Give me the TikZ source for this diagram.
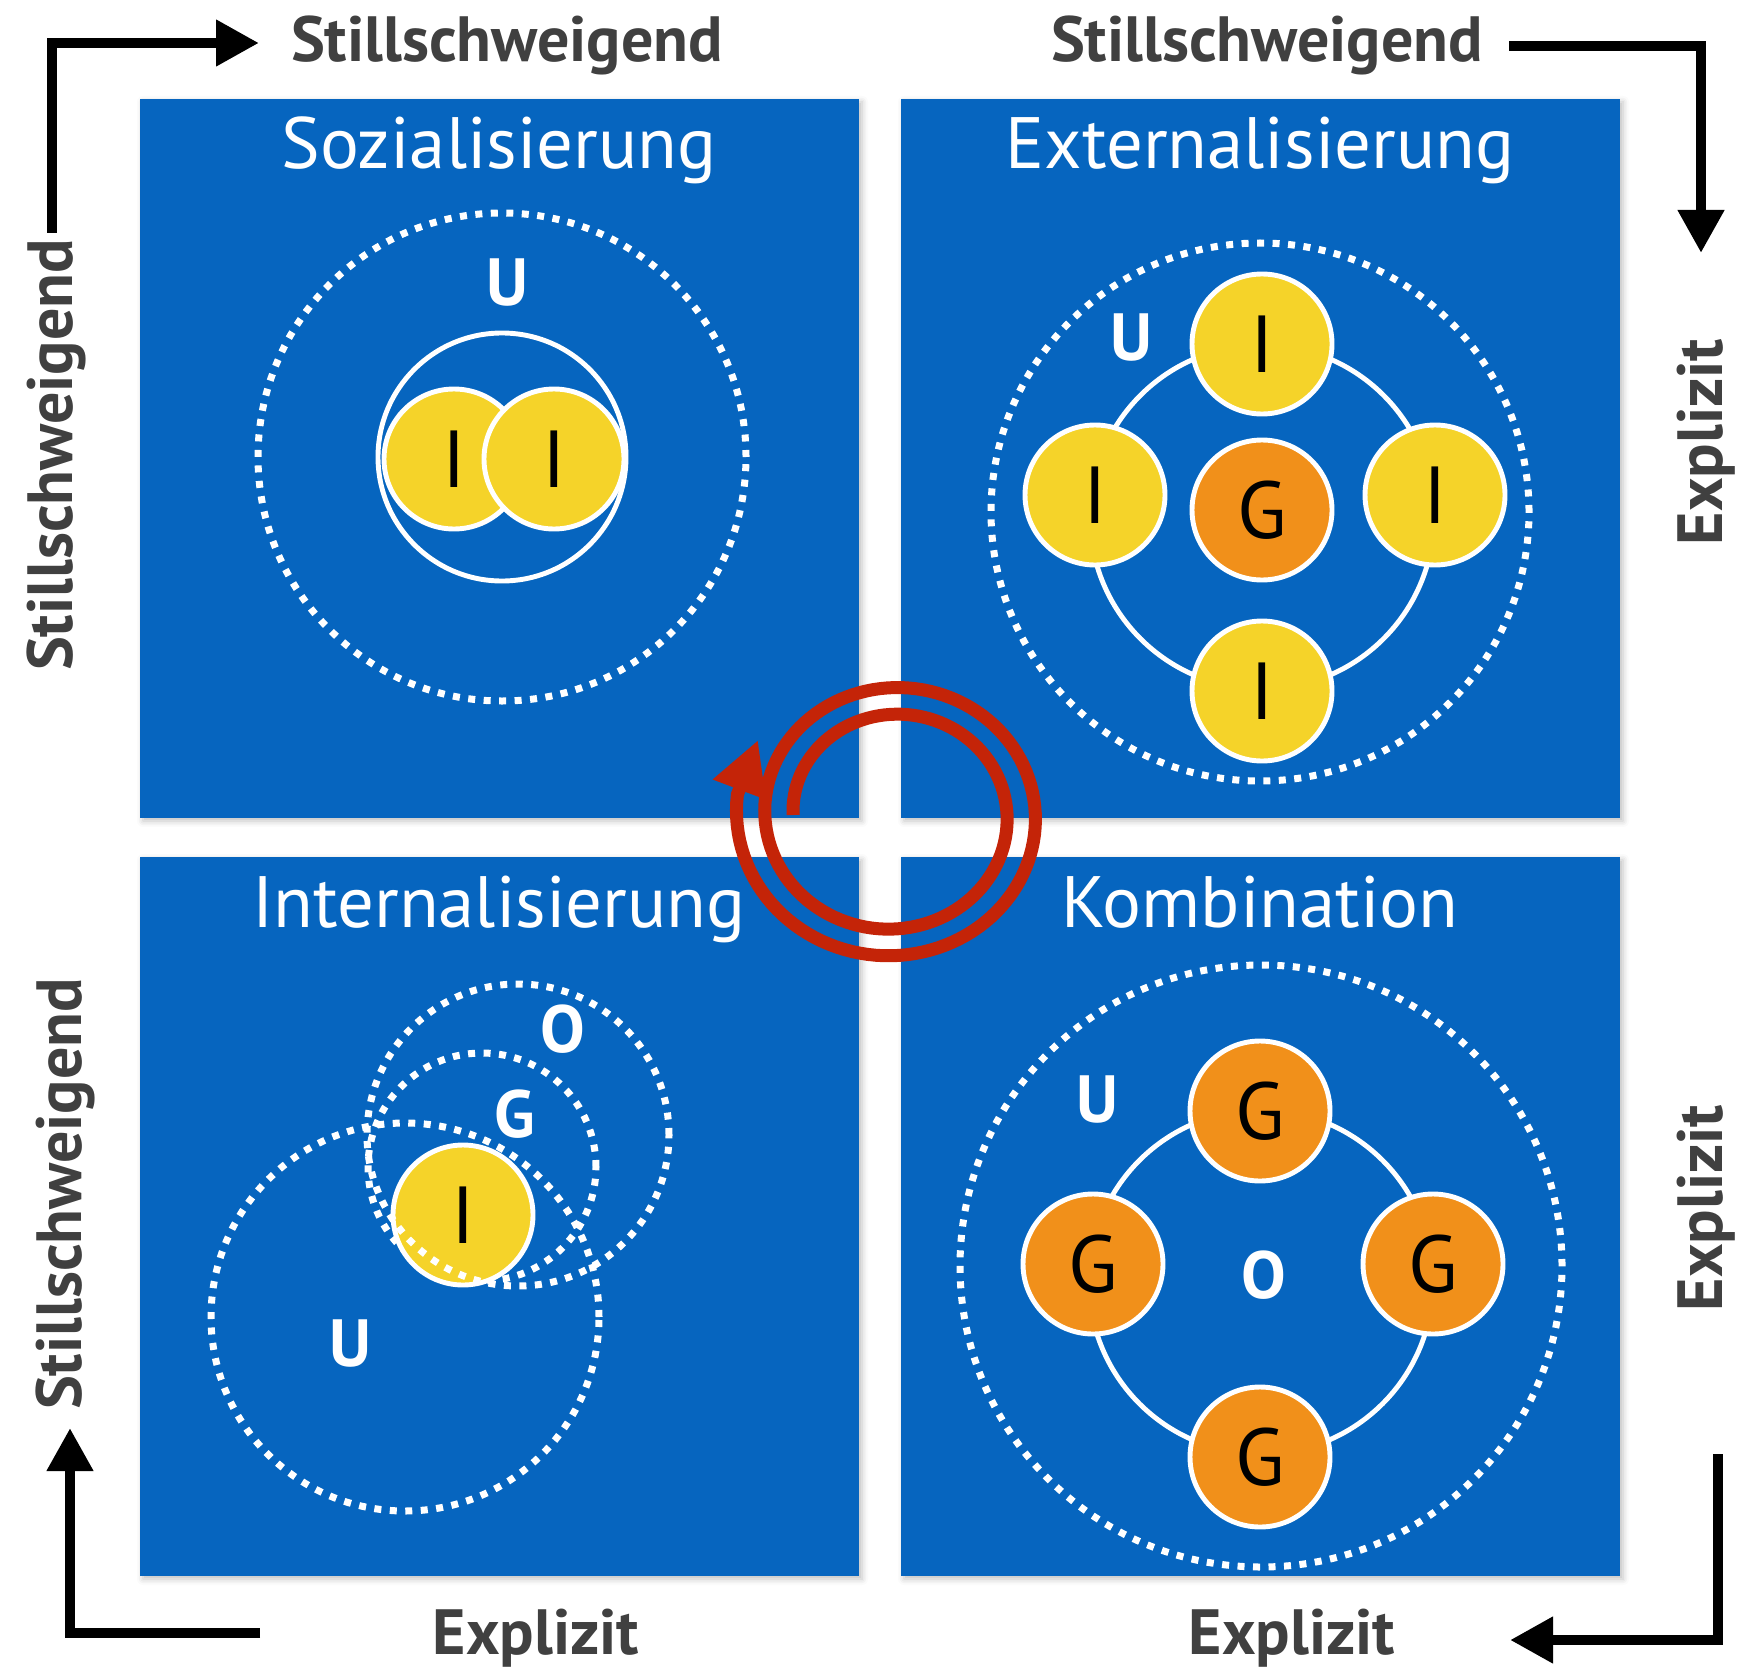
\documentclass[tikz,border=0pt]{standalone}
\usepackage{fontspec}
\setmainfont{PT Sans}
\usetikzlibrary{arrows.meta,shadows.blur}

\definecolor{panelblue}{RGB}{6,101,191}
\definecolor{ichyellow}{RGB}{245,211,41}
\definecolor{grporange}{RGB}{241,144,26}
\definecolor{spiralred}{RGB}{196,36,8}
\definecolor{axisgray}{RGB}{64,64,64}

\begin{document}
\begin{tikzpicture}[
    panel/.style={rectangle, fill=panelblue, minimum width=7.19cm, minimum height=7.19cm, inner sep=0pt,
        blur shadow={shadow xshift=0.03cm, shadow yshift=-0.03cm, shadow blur radius=0.06cm, shadow opacity=25}},
    title/.style={text=white, font=\fontsize{20.7}{25}\selectfont, anchor=base},
    person/.style={circle, draw=white, line width=1.4pt, fill=ichyellow, minimum size=1.40cm, inner sep=0pt,
        font=\fontsize{23}{27}\selectfont},
    group/.style={person, fill=grporange},
    tag/.style={text=white, font=\fontsize{19}{23}\selectfont\bfseries},
    ring/.style={draw=white, line width=1.4pt},
    dotring/.style={draw=white, line width=0.07cm, dash pattern=on 0.07cm off 0.085cm},
    axis/.style={line width=0.105cm, -{Triangle[length=0.43cm, width=0.44cm]}},
    axislabel/.style={text=axisgray, font=\fontsize{18.2}{22}\selectfont\bfseries, anchor=base},
    spiral/.style={draw=spiralred, line width=0.13cm, -{Triangle[length=0.53cm, width=0.53cm]}}
]
\useasboundingbox (0,0) rectangle (17.38,16.67);

% Panels
\node[panel] (soz) at (4.995,12.085) {};
\node[panel] (ext) at (12.605,12.085) {};
\node[panel] (int) at (4.995,4.505) {};
\node[panel] (kom) at (12.605,4.505) {};

% Titles
\node[title] (sozt) at (4.99,14.98) {Sozialisierung};
\node[title] (extt) at (12.60,14.98) {Externalisierung};
\node[title] (intt) at (4.99,7.40) {Internalisierung};
\node[title] (komt) at (12.60,7.40) {Kombination};

% Sozialisierung
\draw[dotring] (5.02,12.10) circle (2.44);
\node[tag] (sozu) at (5.07,13.84) {U};
\draw[ring] (5.02,12.10) circle (1.24);
\node[person] (soz1) at (4.54,12.08) {I};
\node[person] (soz2) at (5.54,12.08) {I};

% Externalisierung
\draw[dotring] (12.60,11.55) circle (2.69);
\node[tag] (extu) at (11.31,13.29) {U};
\draw[ring] (12.62,11.50) circle (1.72);
\node[group] (extg) at (12.62,11.57) {G};
\node[person] (ext1) at (12.62,13.23) {I};
\node[person] (ext2) at (10.95,11.72) {I};
\node[person] (ext3) at (14.35,11.72) {I};
\node[person] (ext4) at (12.62,9.76) {I};

% Internalisierung
\draw[dotring] (4.05,3.50) circle (1.94);
\draw[dotring] (4.82,5.00) circle (1.14);
\node[person] (int1) at (4.63,4.52) {I};
\draw[dotring] (5.18,5.32) circle (1.51);
\node[tag] (into) at (5.63,6.38) {O};
\node[tag] (intg) at (5.15,5.53) {G};
\node[tag] (intu) at (3.50,3.23) {U};

% Kombination
\draw[dotring] (12.61,4.01) circle (3.01);
\draw[ring] (12.61,3.85) circle (1.72);
\node[group] (kom1) at (12.60,5.56) {G};
\node[group] (kom2) at (10.93,4.03) {G};
\node[group] (kom3) at (14.33,4.03) {G};
\node[group] (kom4) at (12.60,2.10) {G};
\node[tag] (komu) at (10.97,5.67) {U};
\node[tag] (komo) at (12.64,3.92) {O};

% Axes
\coordinate (tla) at (0.52,14.34);
\coordinate (tlb) at (2.59,16.24);
\coordinate (tra) at (15.09,16.21);
\coordinate (trb) at (17.01,14.14);
\coordinate (bla) at (2.60,0.34);
\coordinate (blb) at (0.70,2.39);
\coordinate (bra) at (17.18,2.13);
\coordinate (brb) at (15.10,0.27);
\draw[axis] (tla) |- (tlb);
\draw[axis] (tra) -| (trb);
\draw[axis] (bla) -| (blb);
\draw[axis] (bra) |- (brb);

\node[axislabel] (topl) at (5.07,16.05) {Stillschweigend};
\node[axislabel] (topr) at (12.67,16.05) {Stillschweigend};
\node[axislabel, rotate=90] (lefu) at (0.72,12.12) {Stillschweigend};
\node[axislabel, rotate=90] (lefl) at (0.81,4.73) {Stillschweigend};
\node[axislabel, rotate=90] (rigu) at (17.22,12.25) {Explizit};
\node[axislabel, rotate=90] (rigl) at (17.22,4.59) {Explizit};
\node[axislabel] (botl) at (5.36,0.13) {Explizit};
\node[axislabel] (botr) at (12.92,0.13) {Explizit};

% Spiral
\coordinate (sptip) at (7.58,9.27);
\draw[spiral] plot[domain=0:728, samples=240]
    ({8.93+1.03*(0.97+0.000764*\x)*cos(180-\x)}, {8.52+0.97*(0.97+0.000764*\x)*sin(180-\x)}) -- (sptip);

\end{tikzpicture}
\end{document}
